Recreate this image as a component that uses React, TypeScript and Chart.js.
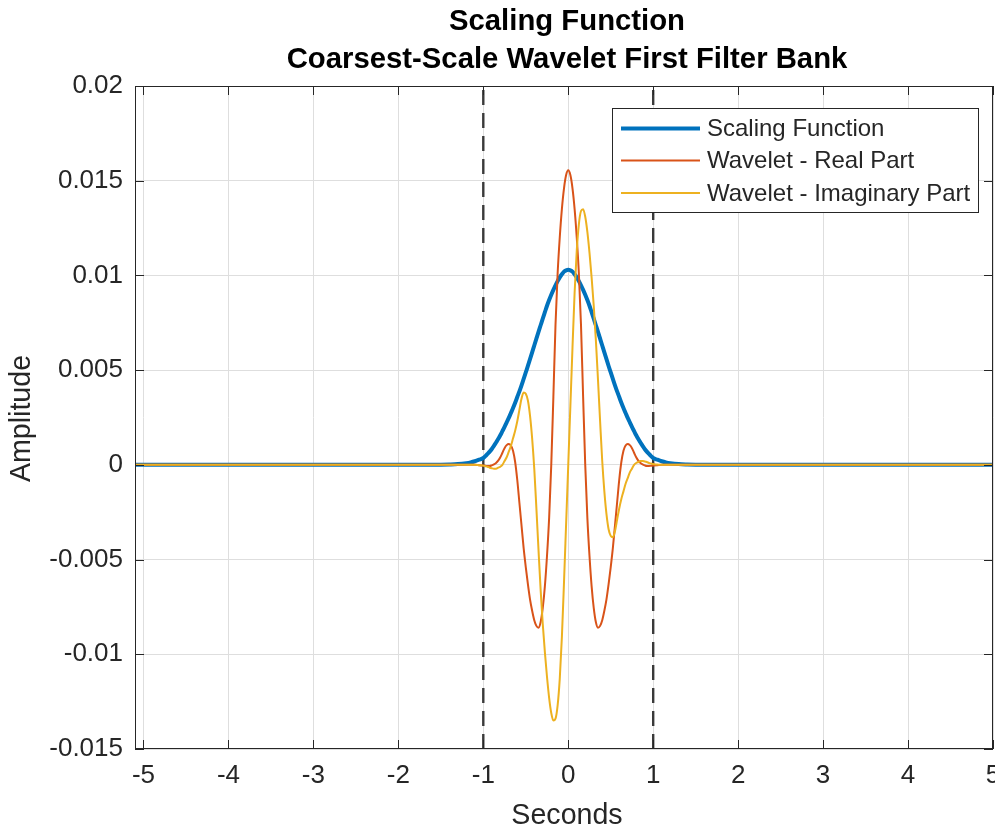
import { useEffect, useRef } from "react";
import { Chart, registerables } from "chart.js";

Chart.register(...registerables);

// ---------------- DATA ----------------
const timeSeconds = [
  -5.1, -4, -3, -2, -1.5, -1.4, -1.3, -1.2, -1.15, -1.1, -1.05,
  -1, -0.975, -0.95, -0.925, -0.9, -0.875, -0.85, -0.825, -0.8, -0.775,
  -0.75, -0.725, -0.7, -0.675, -0.65, -0.625, -0.6, -0.575, -0.55, -0.525,
  -0.5, -0.475, -0.45, -0.425, -0.4, -0.375, -0.35, -0.325, -0.3, -0.275,
  -0.25, -0.225, -0.2, -0.175, -0.15, -0.125, -0.1, -0.075, -0.05, -0.025,
  0,
  0.025, 0.05, 0.075, 0.1, 0.125, 0.15, 0.175, 0.2, 0.225, 0.25,
  0.275, 0.3, 0.325, 0.35, 0.375, 0.4, 0.425, 0.45, 0.475, 0.5,
  0.525, 0.55, 0.575, 0.6, 0.625, 0.65, 0.675, 0.7, 0.725, 0.75,
  0.775, 0.8, 0.825, 0.85, 0.875, 0.9, 0.925, 0.95, 0.975, 1,
  1.05, 1.1, 1.15, 1.2, 1.3, 1.4, 1.5, 2, 3, 4, 5,
];

const scalingFunction = [
  0, 0, 0, 0, 0.00001, 0.00002, 0.00004, 0.00009, 0.00013, 0.00019, 0.00027,
  0.00036, 0.00046, 0.00058, 0.0007, 0.00084, 0.001, 0.00118, 0.00136, 0.00156, 0.00178,
  0.002, 0.00224, 0.00248, 0.00274, 0.003, 0.00328, 0.00358, 0.00388, 0.0042, 0.00454,
  0.00488, 0.00522, 0.00558, 0.00594, 0.0063, 0.00666, 0.00702, 0.00737, 0.00772, 0.00806,
  0.0084, 0.0087, 0.00898, 0.00924, 0.00948, 0.0097, 0.0099, 0.01006, 0.0102, 0.01027,
  0.0103,
  0.01027, 0.0102, 0.01006, 0.0099, 0.0097, 0.00948, 0.00924, 0.00898, 0.0087, 0.0084,
  0.00806, 0.00772, 0.00737, 0.00702, 0.00666, 0.0063, 0.00594, 0.00558, 0.00522, 0.00488,
  0.00454, 0.0042, 0.00388, 0.00358, 0.00328, 0.003, 0.00274, 0.00248, 0.00224, 0.002,
  0.00178, 0.00156, 0.00136, 0.00118, 0.001, 0.00084, 0.0007, 0.00058, 0.00046, 0.00036,
  0.00027, 0.00019, 0.00013, 0.00009, 0.00004, 0.00002, 0.00001, 0, 0, 0, 0,
];

const waveletReal = [
  0, 0, 0, 0, 0, 0, 0, 0, 0, 0, -0.00002,
  -0.00004, -0.00005, -0.00006, -0.00006, -0.00003, 0.00002, 0.0001, 0.00022, 0.0004, 0.00064,
  0.00088, 0.00104, 0.0011, 0.00102, 0.00075, 0.00015, -0.0008, -0.002, -0.0032, -0.0044,
  -0.0054, -0.0063, -0.0071, -0.0077, -0.0082, -0.0085, -0.0086, -0.0083, -0.00755, -0.0064,
  -0.0048, -0.0028, 0, 0.0036, 0.0074, 0.0101, 0.012, 0.0135, 0.0146, 0.0153,
  0.01555,
  0.0153, 0.0146, 0.0135, 0.012, 0.0101, 0.0074, 0.0036, 0, -0.0028, -0.0048,
  -0.0064, -0.00755, -0.0083, -0.0086, -0.0085, -0.0082, -0.0077, -0.0071, -0.0063, -0.0054,
  -0.0044, -0.0032, -0.002, -0.0008, 0.00015, 0.00075, 0.00102, 0.0011, 0.00104, 0.00088,
  0.00064, 0.0004, 0.00022, 0.0001, 0.00002, -0.00003, -0.00006, -0.00006, -0.00005, -0.00004,
  -0.00002, 0, 0, 0, 0, 0, 0, 0, 0, 0, 0,
];

const waveletImag = [
  0, 0, 0, 0, 0, 0, 0, 0, 0, 0, -0.00002,
  -0.00004, -0.00007, -0.0001, -0.00015, -0.00018, -0.0002, -0.0002, -0.00015, -0.0001, 0,
  0.0002, 0.0004, 0.0007, 0.001, 0.0014, 0.0018, 0.0023, 0.0029, 0.0035, 0.00382,
  0.00375, 0.0034, 0.0026, 0.0014, -0.0002, -0.0023, -0.0045, -0.0066, -0.0084, -0.0099,
  -0.0112, -0.0123, -0.0131, -0.0135, -0.0134, -0.0127, -0.0113, -0.0091, -0.0062, -0.0031,
  0,
  0.0031, 0.0062, 0.0091, 0.0113, 0.0127, 0.0134, 0.0135, 0.0131, 0.0123, 0.0112,
  0.0099, 0.0084, 0.0066, 0.0045, 0.0023, 0.0002, -0.0014, -0.0026, -0.0034, -0.00375,
  -0.00382, -0.0035, -0.0029, -0.0023, -0.0018, -0.0014, -0.001, -0.0007, -0.0004, -0.0002,
  0, 0.0001, 0.00015, 0.0002, 0.0002, 0.00018, 0.00015, 0.0001, 0.00007, 0.00004,
  0.00002, 0, 0, 0, 0, 0, 0, 0, 0, 0, 0,
];

const boundaryLines = [-1, 1];

const xTickValues = [-5, -4, -3, -2, -1, 0, 1, 2, 3, 4, 5];
const xTickLabels = ["-5", "-4", "-3", "-2", "-1", "0", "1", "2", "3", "4", "5"];
const yTickValues = [-0.015, -0.01, -0.005, 0, 0.005, 0.01, 0.015, 0.02];
const yTickLabels = ["-0.015", "-0.01", "-0.005", "0", "0.005", "0.01", "0.015", "0.02"];

const seriesNames = ["Scaling Function", "Wavelet - Real Part", "Wavelet - Imaginary Part"];
const titleLines = ["Scaling Function", "Coarsest-Scale Wavelet First Filter Bank"];
const xAxisTitle = "Seconds";
const yAxisTitle = "Amplitude";

// ---------------- STYLE ----------------
const W = 995;
const H = 830;
const FONT = '"Liberation Sans", Arial, Helvetica, sans-serif';
const TEXT = "#262626";
const COLORS = ["#0072BD", "#D95319", "#EDB120"];
const WIDTHS = [4, 2, 2];

function labelFor(values: number[], labels: string[], v: number) {
  const i = values.findIndex((t) => Math.abs(t - v) < 1e-9);
  return i >= 0 ? labels[i] : "";
}

const decorPlugin = {
  id: "decor",
  beforeDraw(chart: any) {
    const ctx = chart.ctx;
    ctx.save();
    ctx.fillStyle = "#ffffff";
    ctx.fillRect(0, 0, chart.width, chart.height);
    ctx.restore();
  },
  afterDraw(chart: any) {
    const ctx = chart.ctx as CanvasRenderingContext2D;
    const a = chart.chartArea;
    const sx = chart.scales.x;
    const sy = chart.scales.y;
    ctx.save();
    // box
    ctx.strokeStyle = TEXT;
    ctx.lineWidth = 1;
    ctx.strokeRect(a.left + 0.5, a.top + 0.5, a.right - a.left - 1, a.bottom - a.top - 1);
    // inward tick marks
    const tl = 9;
    ctx.beginPath();
    xTickValues.forEach((v) => {
      const p = Math.round(sx.getPixelForValue(v)) + 0.5;
      ctx.moveTo(p, a.bottom);
      ctx.lineTo(p, a.bottom - tl);
      ctx.moveTo(p, a.top);
      ctx.lineTo(p, a.top + tl);
    });
    yTickValues.forEach((v) => {
      const p = Math.round(sy.getPixelForValue(v)) + 0.5;
      ctx.moveTo(a.left, p);
      ctx.lineTo(a.left + tl, p);
      ctx.moveTo(a.right, p);
      ctx.lineTo(a.right - tl, p);
    });
    ctx.stroke();

    // title
    const cx = (a.left + a.right) / 2 + 3;
    ctx.fillStyle = "#000000";
    ctx.textAlign = "center";
    ctx.textBaseline = "middle";
    ctx.font = `bold 29.3px ${FONT}`;
    ctx.fillText(titleLines[0], cx, 22);
    ctx.fillText(titleLines[1], cx, 60);

    // axis titles
    ctx.fillStyle = TEXT;
    ctx.font = `28.6px ${FONT}`;
    ctx.fillText(xAxisTitle, cx, 816);
    ctx.save();
    ctx.translate(22, (a.top + a.bottom) / 2 + 1);
    ctx.rotate(-Math.PI / 2);
    ctx.fillText(yAxisTitle, 0, 0);
    ctx.restore();

    // legend
    const bx = 612.5, by = 108.5, bw = 366, bh = 104;
    ctx.fillStyle = "#ffffff";
    ctx.fillRect(bx, by, bw, bh);
    ctx.strokeStyle = TEXT;
    ctx.lineWidth = 1;
    ctx.strokeRect(bx, by, bw, bh);
    const rows = [128.5, 160.5, 193];
    ctx.font = `24px ${FONT}`;
    ctx.textAlign = "left";
    ctx.textBaseline = "middle";
    seriesNames.forEach((name, i) => {
      ctx.strokeStyle = COLORS[i];
      ctx.lineWidth = WIDTHS[i];
      ctx.beginPath();
      ctx.moveTo(621, rows[i]);
      ctx.lineTo(700, rows[i]);
      ctx.stroke();
      ctx.fillStyle = TEXT;
      ctx.fillText(name, 707, rows[i] + 1);
    });
    ctx.restore();
  },
};

export default function App() {
  const ref = useRef<HTMLCanvasElement | null>(null);

  useEffect(() => {
    if (!ref.current) return;
    const series = [scalingFunction, waveletReal, waveletImag];
    const datasets: any[] = series.map((vals, i) => ({
      label: seriesNames[i],
      data: timeSeconds.map((t, k) => ({ x: t, y: vals[k] })),
      borderColor: COLORS[i],
      backgroundColor: COLORS[i],
      borderWidth: WIDTHS[i],
      pointRadius: 0,
      fill: false,
      cubicInterpolationMode: "monotone",
      order: 3 - i,
    }));
    boundaryLines.forEach((xv) => {
      datasets.push({
        label: "",
        data: [
          { x: xv, y: yTickValues[0] },
          { x: xv, y: yTickValues[yTickValues.length - 1] },
        ],
        borderColor: "#3a3a3a",
        borderWidth: 2.4,
        borderDash: [15, 8],
        pointRadius: 0,
        fill: false,
        order: 10,
      });
    });

    const chart = new Chart(ref.current, {
      type: "line",
      data: { datasets },
      plugins: [decorPlugin],
      options: {
        responsive: false,
        maintainAspectRatio: false,
        devicePixelRatio: 1,
        animation: false,
        layout: { padding: { top: 86, right: 2, left: 0, bottom: 0 } },
        plugins: {
          legend: { display: false },
          tooltip: { enabled: false },
          title: { display: false },
        },
        scales: {
          x: {
            type: "linear",
            min: -5.1,
            max: 5.0,
            afterBuildTicks: (s: any) => {
              s.ticks = xTickValues.map((v) => ({ value: v }));
            },
            afterFit: (s: any) => {
              s.height = 81;
              s.paddingLeft = 0;
              s.paddingRight = 0;
            },
            grid: { color: "#dedede", lineWidth: 1, drawTicks: false },
            border: { display: false },
            ticks: {
              autoSkip: false,
              maxRotation: 0,
              padding: 11,
              color: TEXT,
              font: { family: FONT, size: 26 },
              callback: (v: any) => labelFor(xTickValues, xTickLabels, Number(v)),
            },
          },
          y: {
            type: "linear",
            min: -0.015,
            max: 0.02,
            afterBuildTicks: (s: any) => {
              s.ticks = yTickValues.map((v) => ({ value: v }));
            },
            afterFit: (s: any) => {
              s.width = 135;
            },
            grid: { color: "#dedede", lineWidth: 1, drawTicks: false },
            border: { display: false },
            ticks: {
              autoSkip: false,
              padding: 12,
              color: TEXT,
              font: { family: FONT, size: 26 },
              callback: (v: any) => labelFor(yTickValues, yTickLabels, Number(v)),
            },
          },
        },
      } as any,
    });
    return () => chart.destroy();
  }, []);

  return (
    <div style={{ position: "fixed", left: 0, top: 0, width: W, height: H, background: "#fff" }}>
      <canvas ref={ref} width={W} height={H} style={{ width: W, height: H, display: "block" }} />
    </div>
  );
}
